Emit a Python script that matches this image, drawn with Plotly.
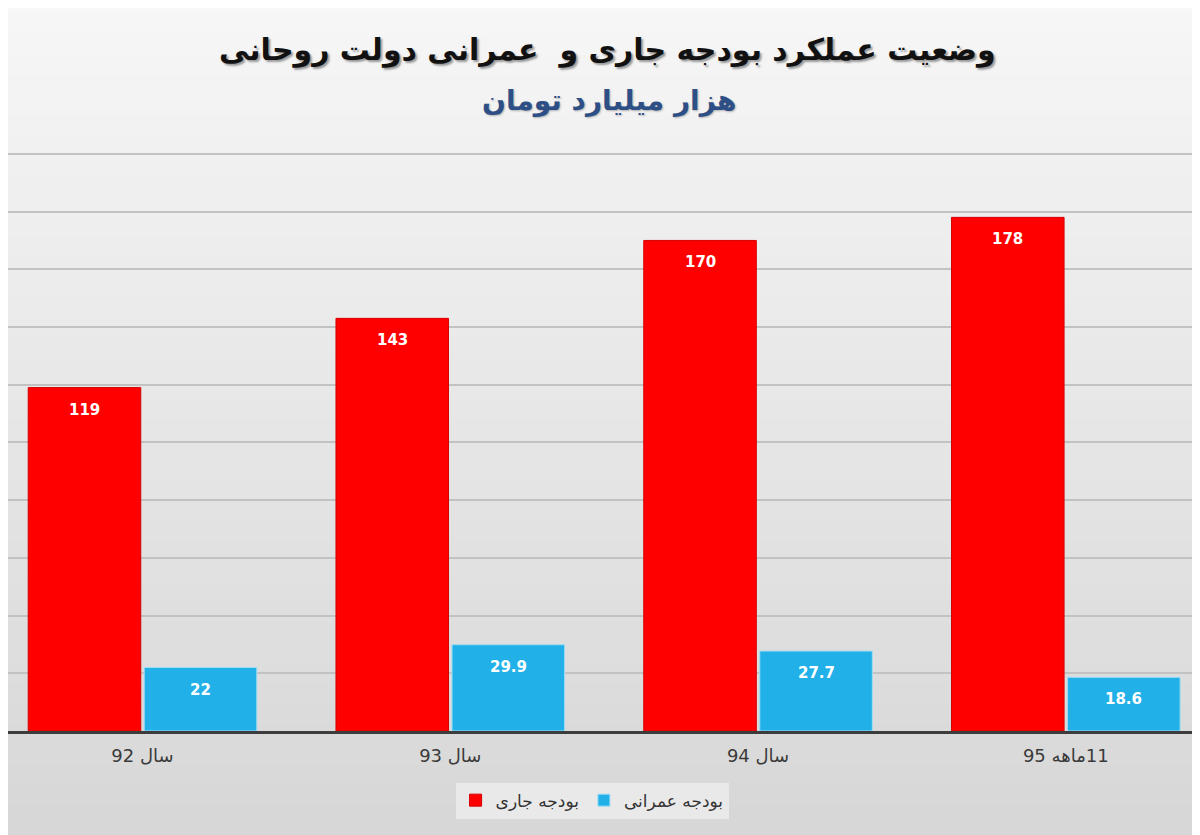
import plotly.graph_objects as go

###############################################################################
# Data
###############################################################################
categories = ['\u200fسال 92', '\u200fسال 93', '\u200fسال 94', '\u200f11ماهه 95']
current_budget = [119, 143, 170, 178]
development_budget = [22, 29.9, 27.7, 18.6]
current_labels = ['119', '143', '170', '178']
development_labels = ['22', '29.9', '27.7', '18.6']

title_text = 'وضعیت عملکرد بودجه جاری و  عمرانی دولت روحانی'
subtitle_text = 'هزار میلیارد تومان'
current_name = 'بودجه جاری'
development_name = 'بودجه عمرانی'

FONT = 'DejaVu Sans'
RED = '#ff0000'
BLUE = '#21b1e8'

###############################################################################
# Figure
###############################################################################
fig = go.Figure()
fig.add_trace(go.Bar(x=categories, y=current_budget, name=current_name,
                     marker=dict(color=RED, line=dict(color='#d40000', width=1))))
fig.add_trace(go.Bar(x=categories, y=development_budget, name=development_name,
                     marker=dict(color=BLUE, line=dict(color='#9fdcf4', width=1))))

# value labels just below the top of each bar
bar_shift = 58
for values, labels, side in ((current_budget, current_labels, -1),
                             (development_budget, development_labels, 1)):
    for cat, val, lab in zip(categories, values, labels):
        fig.add_annotation(x=cat, y=val, text='<b>' + lab + '</b>', showarrow=False,
                           xshift=side * bar_shift, yshift=-22, yanchor='middle',
                           font=dict(family=FONT, size=15, color='white'))

# titles
fig.add_annotation(xref='paper', yref='paper', x=0.503, y=1.0, yshift=101,
                   text='<b>' + title_text + '</b>', showarrow=False, yanchor='middle',
                   font=dict(family=FONT, size=30, color='#111111',
                             shadow='2px 2px 2px #9a9a9a'))
fig.add_annotation(xref='paper', yref='paper', x=0.505, y=1.0, yshift=51,
                   text='<b>' + subtitle_text + '</b>', showarrow=False, yanchor='middle',
                   font=dict(family=FONT, size=28, color='#2d4f86',
                             shadow='1px 1px 2px #b0b0b0'))

# soft vertical gradient background
steps = 42
for i in range(steps):
    t = i / (steps - 1)
    g = int(247 - 32 * t)
    fig.add_shape(type='rect', xref='paper', yref='paper', layer='below',
                  x0=-0.01, x1=1.01,
                  y0=1.27 - (i + 1) * 1.47 / steps, y1=1.27 - i * 1.47 / steps + 0.002,
                  fillcolor=f'rgb({g},{g},{g})', line=dict(width=0))

fig.update_layout(
    width=1192, height=827,
    margin=dict(l=0, r=0, t=143, b=104),
    paper_bgcolor='#e4e4e4',
    plot_bgcolor='rgba(0,0,0,0)',
    barmode='group', bargap=0.246, bargroupgap=0.03,
    font=dict(family=FONT, color='#3a3a3a'),
    showlegend=True,
    legend=dict(orientation='h', x=0.49, xanchor='center', y=-0.12, yanchor='middle',
                bgcolor='#e9e9e9', font=dict(family=FONT, size=17, color='#333333'),
                itemwidth=30, traceorder='normal'),
    xaxis=dict(range=[-0.437, 3.436], showgrid=False, showline=True,
               linecolor='#3c3c3c', linewidth=2.5, ticks='',
               tickfont=dict(family=FONT, size=18, color='#3a3a3a'),
               ticklabelstandoff=7),
    yaxis=dict(range=[0, 201], dtick=20, showticklabels=False, showgrid=True,
               gridcolor='#c2c2c2', gridwidth=1.5, zeroline=False, fixedrange=True),
)

fig.write_html('out.html')
